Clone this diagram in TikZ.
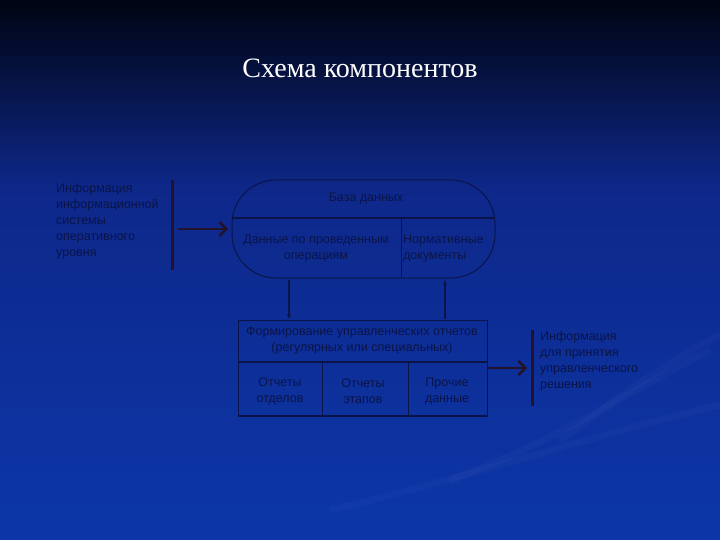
\documentclass[tikz,border=0pt]{standalone}
\usepackage{fontspec}
\setmainfont{Liberation Serif}
\newfontfamily\bodyfont{Liberation Sans}
\usetikzlibrary{arrows.meta}
\definecolor{bgtop}{RGB}{0,4,18}
\definecolor{bgmid}{RGB}{14,40,138}
\definecolor{bgbot}{RGB}{12,54,168}
\definecolor{ink}{RGB}{10,20,72}
\definecolor{linec}{RGB}{10,20,72}
\definecolor{barc}{RGB}{36,18,42}
\tikzset{
  txt/.style={font=\bodyfont\fontsize{12.5}{16}\selectfont, text=ink, inner sep=0pt},
  thin/.style={draw=linec, line width=1pt},
  bar/.style={draw=barc, line width=3pt},
  bigarrow/.style={draw=barc, line width=2.6pt, -{Straight Barb[length=7pt,width=14pt,line width=2.4pt]}},
  smallarrow/.style={draw=linec, line width=1.1pt, -{Stealth[length=5pt,width=4pt]}}
}
\begin{document}
\begin{tikzpicture}[x=1pt,y=-1pt]
\useasboundingbox (0,0) rectangle (720,540);
% background
\shade[top color=bgtop, bottom color=bgmid] (0,0) rectangle (720,190);
\shade[top color=bgmid, bottom color=bgbot] (0,189.5) rectangle (720,540);
% faint swooshes
\begin{scope}[draw=white, opacity=0.025, line width=7pt]
\draw (330,510) .. controls (460,480) and (610,430) .. (720,405);
\draw (450,480) .. controls (550,445) and (640,385) .. (710,350);
\draw (560,440) .. controls (610,405) and (660,365) .. (720,335);
\end{scope}
% title
\node[text=white, font=\fontsize{28}{32}\selectfont] (title) at (360,68) {Схема компонентов};
% left text
\node[txt, align=left, anchor=north west] (src) at (56,183) {Информация\\информационной\\системы\\оперативного\\уровня};
\coordinate (lbt) at (172,180);
\coordinate (lbb) at (172,270);
\draw[bar] (lbt) -- (lbb);
\coordinate (la1) at (178,229);
\coordinate (la2) at (228,229);
\draw[bigarrow] (la1) -- (la2);
% pill (database)
\draw[thin, rounded corners=44pt] (232,180) rectangle (495,278);
\coordinate (ph1) at (232,218);
\coordinate (ph2) at (495,218);
\draw[thin, line width=1.3pt] (ph1) -- (ph2);
\coordinate (pv1) at (401,218);
\coordinate (pv2) at (401,278);
\draw[thin] (pv1) -- (pv2);
\node[txt] (db) at (366,198) {База данных};
\node[txt, align=center] (ops) at (316,248) {Данные по проведенным\\операциям};
\node[txt, align=left, anchor=west] (norm) at (403,248) {Нормативные\\документы};
% middle box
\draw[thin] (238,320) rectangle (487,416);
\coordinate (mh1) at (238,362);
\coordinate (mh2) at (487,362);
\draw[thin, line width=1.3pt] (mh1) -- (mh2);
\draw[thin] (322,362) -- (322,416);
\draw[thin] (408,362) -- (408,416);
\draw[thin, line width=1.8pt] (238,416) -- (487,416);
\node[txt, align=center] (rep) at (362,340) {Формирование управленческих отчетов\\(регулярных или специальных)};
\node[txt, align=center] (c1) at (280,391) {Отчеты\\отделов};
\node[txt, align=center] (c2) at (363,391) {Отчеты\\этапов};
\node[txt, align=center] (c3) at (447,391) {Прочие\\данные};
% vertical arrows
\coordinate (d1) at (289,280);
\coordinate (d2) at (289,319);
\draw[smallarrow] (d1) -- (d2);
\coordinate (u1) at (445,319);
\coordinate (u2) at (445,280);
\draw[smallarrow] (u1) -- (u2);
% right arrow and bar
\coordinate (ra1) at (487,368);
\coordinate (ra2) at (527,368);
\draw[bigarrow] (ra1) -- (ra2);
\coordinate (rbt) at (532,330);
\coordinate (rbb) at (532,406);
\draw[bar] (rbt) -- (rbb);
\node[txt, align=left, anchor=north west] (dst) at (540,331) {Информация\\для принятия\\управленческого\\решения};
\end{tikzpicture}
\end{document}
